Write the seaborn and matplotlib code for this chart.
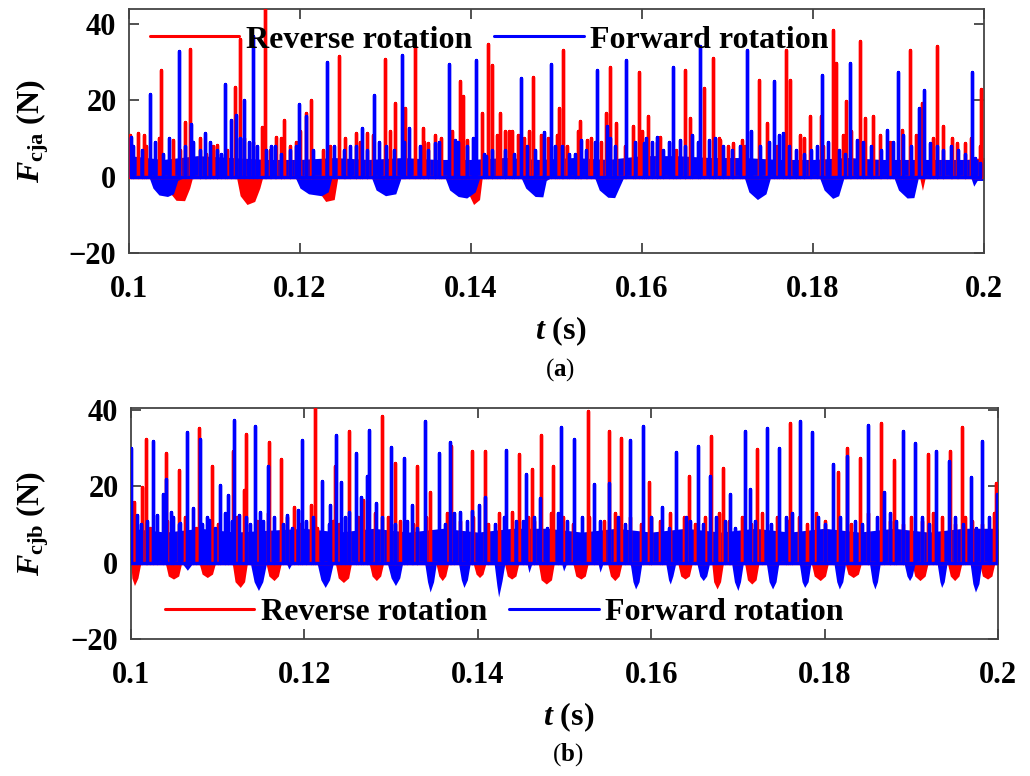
import numpy as np
import pandas as pd
import matplotlib
matplotlib.use("Agg")
import matplotlib.pyplot as plt
import seaborn as sns

# ---------------- data ----------------
x_ticks = [0.1, 0.12, 0.14, 0.16, 0.18, 0.2]
x_tick_labels = ["0.1", "0.12", "0.14", "0.16", "0.18", "0.2"]
y_ticks = [-20, 0, 20, 40]
series_names = ["Reverse rotation", "Forward rotation"]
panel_tags = ["a", "b"]
y_names = ["cja", "cjb"]

# Panel (a) reverse rotation: spikes (t [s], F [N])
a_rev_spikes = [
    (0.1001, 11), (0.1011, 11.4), (0.1017, 11), (0.1038, 27.8), (0.1052, 9.7), (0.1066, 14.2),
    (0.1071, 33.4), (0.1083, 10.1), (0.1103, 8.2), (0.1124, 23.6), (0.1130, 36), (0.1156, 13),
    (0.1159, 48), (0.1172, 10.5), (0.1181, 14.7), (0.1188, 7.9), (0.1207, 16.6), (0.1213, 20.1),
    (0.1227, 7), (0.1246, 31.5), (0.1266, 11.4), (0.1278, 11.4), (0.1299, 30.8), (0.1311, 19.4),
    (0.1323, 17.9), (0.1334, 34.1), (0.1344, 12.7), (0.1350, 8.8), (0.1387, 25.1), (0.1391, 21),
    (0.1395, 9.7), (0.1413, 16.6), (0.1420, 34.8), (0.1424, 29.3), (0.1434, 16.6), (0.1440, 12),
    (0.1448, 12), (0.1468, 12), (0.1473, 26.2), (0.1482, 11), (0.1503, 17.9), (0.1508, 33.2),
    (0.1528, 14.5), (0.1536, 9.7), (0.1558, 16.6), (0.1563, 28.8), (0.1570, 14), (0.1589, 13.2),
    (0.1597, 27.3), (0.1607, 15.8), (0.1621, 10.5), (0.1650, 28), (0.1656, 15.3), (0.1672, 23.2),
    (0.1683, 31), (0.1691, 9.7), (0.1707, 8.8), (0.1717, 9.7), (0.1737, 25.2), (0.1746, 14),
    (0.1769, 33.2), (0.1773, 25.4), (0.1797, 15.8), (0.1809, 15.8), (0.1823, 38.4), (0.1827, 29.7),
    (0.1839, 19.7), (0.1855, 35.6), (0.1861, 15.3), (0.1870, 15.8), (0.1904, 12.3), (0.1913, 33.2),
    (0.1927, 19.3), (0.1945, 34.2), (0.1952, 13.2), (0.1969, 8.8), (0.1978, 8.8), (0.1997, 22.9),
    (0.1020, 8), (0.1035, 10), (0.1060, 7), (0.1090, 6), (0.1098, 8), (0.1115, 7), (0.1135, 10),
    (0.1145, 9), (0.1165, 7), (0.1178, 10), (0.1195, 9), (0.1200, 12), (0.1235, 8), (0.1253, 10),
    (0.1270, 9), (0.1285, 11), (0.1305, 12), (0.1320, 10), (0.1345, 9), (0.1358, 11), (0.1365, 10),
    (0.1378, 12), (0.1430, 11), (0.1445, 12), (0.1455, 11), (0.1462, 10), (0.1490, 10), (0.1500, 11),
    (0.1512, 8), (0.1525, 12), (0.1540, 10), (0.1552, 9), (0.1580, 8), (0.1600, 12), (0.1618, 9),
    (0.1640, 7), (0.1690, 10), (0.1700, 8), (0.1720, 8), (0.1758, 8), (0.1785, 11), (0.1790, 10),
    (0.1812, 8), (0.1835, 11), (0.1845, 12), (0.1878, 11), (0.1890, 9), (0.1920, 11), (0.1940, 10),
    (0.1962, 10), (0.1985, 10), (0.1995, 8),
]
a_rev_band_hi = [
    (0.100, 4), (0.104, 4), (0.108, 3.5), (0.112, 4), (0.116, 3.5), (0.120, 4), (0.124, 3.5),
    (0.128, 4), (0.132, 3.5), (0.136, 4), (0.140, 3.5), (0.144, 5), (0.148, 4), (0.152, 4),
    (0.156, 4), (0.160, 4), (0.164, 4), (0.168, 4), (0.172, 4), (0.176, 4), (0.180, 4),
    (0.184, 5), (0.188, 4), (0.192, 4), (0.196, 4), (0.200, 5),
]
a_rev_band_lo = [
    (0.1000, -0.5), (0.1043, -0.5), (0.1047, -4), (0.1055, -6.2), (0.1065, -6.3), (0.1071, -3),
    (0.1074, -0.5), (0.1126, -0.5), (0.1130, -5), (0.1138, -7.3), (0.1147, -6.5), (0.1153, -3),
    (0.1156, -0.5), (0.1218, -0.5), (0.1222, -4), (0.1230, -6.5), (0.1240, -6), (0.1244, -0.5),
    (0.1392, -0.5), (0.1396, -4), (0.1403, -7.3), (0.1410, -6), (0.1413, -0.5), (0.1925, -0.5),
    (0.1928, -3.6), (0.1931, -0.5), (0.2000, -0.5),
]

# Panel (a) forward rotation
a_fwd_spikes = [
    (0.1002, 10.5), (0.1025, 21.7), (0.1058, 32.8), (0.1073, 13.9), (0.1089, 11.4), (0.1112, 24.3),
    (0.1119, 14.9), (0.1125, 16.2), (0.1134, 20), (0.1145, 36.7), (0.1171, 7.9), (0.1199, 19),
    (0.1207, 15.8), (0.1231, 30.1), (0.1258, 7.9), (0.1272, 12.7), (0.1286, 21.4), (0.1319, 31.9),
    (0.1328, 12.7), (0.1358, 8.8), (0.1374, 29.5), (0.1381, 9.7), (0.1406, 30.6), (0.1418, 5.3),
    (0.1459, 25.8), (0.1485, 11.8), (0.1493, 29.5), (0.1506, 7.9), (0.1529, 9.7), (0.1547, 28),
    (0.1559, 13.2), (0.1581, 30.6), (0.1602, 8.8), (0.1617, 10.5), (0.1636, 28.8), (0.1644, 9.7),
    (0.1668, 34.1), (0.1678, 9.7), (0.1723, 33.2), (0.1754, 25.1), (0.1765, 11.4), (0.1810, 26.7),
    (0.1843, 29.7), (0.1851, 9.7), (0.1886, 12.3), (0.1899, 27.3), (0.1924, 17.9), (0.1930, 22.7),
    (0.1937, 8.8), (0.1961, 7.9), (0.1986, 27.5), (0.1995, 3.6),
    (0.1005, 8), (0.1015, 7), (0.1030, 9), (0.1040, 6), (0.1047, 10), (0.1065, 8), (0.1075, 9),
    (0.1083, 7), (0.1095, 9), (0.1103, 7), (0.1108, 6), (0.1130, 10), (0.1140, 9), (0.1150, 8),
    (0.1160, 7), (0.1166, 8), (0.1178, 6), (0.1188, 7), (0.1195, 8), (0.1215, 7), (0.1240, 8),
    (0.1252, 7), (0.1265, 8), (0.1278, 7), (0.1292, 9), (0.1300, 8), (0.1310, 7), (0.1322, 9),
    (0.1340, 8), (0.1350, 7), (0.1362, 9), (0.1385, 9), (0.1395, 8), (0.1402, 10), (0.1415, 6),
    (0.1425, 7), (0.1440, 7), (0.1450, 6), (0.1465, 8), (0.1475, 7), (0.1498, 8), (0.1515, 6),
    (0.1522, 6), (0.1535, 7), (0.1545, 9), (0.1562, 10), (0.1568, 8), (0.1592, 9), (0.1605, 10),
    (0.1612, 9), (0.1625, 7), (0.1632, 9), (0.1650, 8), (0.1658, 11), (0.1665, 9), (0.1685, 10),
    (0.1695, 8), (0.1705, 7), (0.1715, 8), (0.1727, 12), (0.1738, 8), (0.1748, 9), (0.1760, 11),
    (0.1772, 8), (0.1780, 7), (0.1790, 6), (0.1798, 7), (0.1805, 8), (0.1818, 9), (0.1830, 7),
    (0.1838, 6), (0.1858, 9), (0.1868, 8), (0.1880, 7), (0.1893, 9), (0.1905, 11), (0.1915, 8),
    (0.1945, 8), (0.1952, 7), (0.1970, 7), (0.1978, 6), (0.1990, 5),
]
a_fwd_band_hi = [
    (0.100, 5.5), (0.104, 4.5), (0.108, 5.5), (0.112, 5), (0.116, 4.5), (0.120, 4.5), (0.124, 5),
    (0.128, 4.5), (0.132, 5), (0.136, 4.5), (0.140, 4.5), (0.144, 5), (0.148, 4.5), (0.152, 5),
    (0.156, 4.5), (0.160, 5.5), (0.164, 5.5), (0.168, 5), (0.172, 5), (0.176, 4.5), (0.180, 4.5),
    (0.184, 5), (0.188, 4.5), (0.192, 4.5), (0.196, 4.5), (0.200, 4.5),
]
a_fwd_band_lo = [
    (0.1000, -0.5), (0.1024, -0.5), (0.1028, -3), (0.1035, -4.8), (0.1045, -5.2), (0.1052, -4.5),
    (0.1057, -1), (0.1062, -0.5), (0.1195, -0.5), (0.1200, -3), (0.1210, -4.5), (0.1225, -5),
    (0.1233, -4), (0.1237, -0.5), (0.1284, -0.5), (0.1289, -3.5), (0.1300, -5), (0.1312, -4.5),
    (0.1318, -0.5), (0.1370, -0.5), (0.1375, -3.5), (0.1385, -5.2), (0.1395, -5.6), (0.1405, -4),
    (0.1410, -0.5), (0.1459, -0.5), (0.1464, -3), (0.1475, -5.2), (0.1484, -5.3), (0.1488, -1),
    (0.1492, -0.5), (0.1545, -0.5), (0.1550, -3.5), (0.1560, -5.4), (0.1568, -5.5), (0.1575, -2),
    (0.1578, -0.5), (0.1720, -0.5), (0.1725, -4), (0.1735, -6), (0.1745, -4.5), (0.1750, -0.5),
    (0.1808, -0.5), (0.1813, -3.5), (0.1823, -5.7), (0.1830, -5), (0.1836, -0.5), (0.1895, -0.5),
    (0.1900, -3.5), (0.1910, -5.6), (0.1918, -5.5), (0.1923, -0.5), (0.1985, -0.5), (0.1988, -2.5),
    (0.1992, -1), (0.2000, -1),
]

# Panel (b) reverse rotation
b_rev_spikes = [
    (0.1003, 15.9), (0.1013, 19.8), (0.1017, 32.3), (0.1040, 28.6), (0.1055, 24.3), (0.1078, 35.3),
    (0.1094, 25.4), (0.1118, 29.2), (0.1130, 18.9), (0.1133, 33.8), (0.1159, 31.6), (0.1173, 27.1),
    (0.1188, 14.6), (0.1208, 15.2), (0.1212, 40.4), (0.1235, 25.2), (0.1251, 34.4), (0.1268, 16.3),
    (0.1290, 38.3), (0.1305, 26.2), (0.1330, 25.2), (0.1345, 18.5), (0.1369, 30.5), (0.1393, 29.2),
    (0.1408, 29.2), (0.1439, 13.3), (0.1447, 28.4), (0.1462, 24.5), (0.1473, 33.5), (0.1487, 25.2),
    (0.1527, 39.6), (0.1551, 34.4), (0.1565, 32.7), (0.1598, 21.2), (0.1644, 22.8), (0.1669, 33.1),
    (0.1683, 24.7), (0.1722, 29.7), (0.1760, 36.6), (0.1816, 23.7), (0.1826, 30.1), (0.1841, 27.5),
    (0.1865, 36.6), (0.1880, 26.9), (0.1919, 28.4), (0.1945, 29.2), (0.1959, 35.5), (0.1998, 20.8),
    (0.1005, 10), (0.1022, 9), (0.1042, 11), (0.1062, 12), (0.1075, 9), (0.1100, 10), (0.1122, 12),
    (0.1145, 11), (0.1158, 13), (0.1180, 12), (0.1195, 10), (0.1215, 9), (0.1233, 11), (0.1240, 10),
    (0.1262, 12), (0.1282, 13), (0.1296, 12), (0.1310, 11), (0.1325, 10), (0.1340, 12), (0.1365, 13),
    (0.1380, 11), (0.1395, 12), (0.1412, 10), (0.1425, 13), (0.1440, 11), (0.1458, 12), (0.1465, 11),
    (0.1485, 13), (0.1498, 12), (0.1510, 10), (0.1528, 12), (0.1545, 11), (0.1558, 13), (0.1575, 12),
    (0.1588, 10), (0.1600, 12), (0.1610, 11), (0.1622, 13), (0.1638, 12), (0.1650, 10), (0.1662, 12),
    (0.1678, 13), (0.1690, 11), (0.1705, 12), (0.1715, 10), (0.1728, 13), (0.1745, 12), (0.1758, 11),
    (0.1770, 12), (0.1780, 10), (0.1790, 13), (0.1800, 11), (0.1815, 12), (0.1830, 10), (0.1850, 13),
    (0.1866, 12), (0.1875, 11), (0.1890, 10), (0.1900, 12), (0.1912, 11), (0.1925, 13), (0.1935, 12),
    (0.1950, 10), (0.1962, 12), (0.1970, 11), (0.1982, 10), (0.1995, 13),
]
b_rev_band_hi = [
    (0.100, 7), (0.104, 6), (0.108, 7), (0.112, 6.5), (0.116, 6), (0.120, 7), (0.124, 6.5),
    (0.128, 6), (0.132, 7), (0.136, 6.5), (0.140, 6), (0.144, 7), (0.148, 6.5), (0.152, 6),
    (0.156, 7), (0.160, 6.5), (0.164, 6), (0.168, 7), (0.172, 6.5), (0.176, 6), (0.180, 7),
    (0.184, 6.5), (0.188, 6), (0.192, 7), (0.196, 6.5), (0.200, 6),
]
b_rev_band_lo = [
    (0.1000, -0.5), (0.1001, -4), (0.1004, -6), (0.1008, -4), (0.1011, -0.5), (0.1040, -0.5),
    (0.1043, -3.5), (0.1049, -4.3), (0.1055, -3.5), (0.1058, -0.5), (0.1079, -0.5), (0.1082, -3),
    (0.1088, -3.9), (0.1094, -3), (0.1097, -0.5), (0.1117, -0.5), (0.1120, -5), (0.1126, -6.5),
    (0.1131, -5), (0.1134, -0.5), (0.1156, -0.5), (0.1159, -3.5), (0.1165, -4.7), (0.1170, -3.5),
    (0.1173, -0.5), (0.1236, -0.5), (0.1239, -4), (0.1245, -5.2), (0.1251, -4), (0.1254, -0.5),
    (0.1275, -0.5), (0.1278, -3.5), (0.1283, -4.7), (0.1288, -3.5), (0.1291, -0.5), (0.1352, -0.5),
    (0.1355, -3.5), (0.1359, -4.7), (0.1363, -3.5), (0.1366, -0.5), (0.1395, -0.5), (0.1398, -3),
    (0.1402, -3.9), (0.1406, -3), (0.1409, -0.5), (0.1431, -0.5), (0.1434, -3.5), (0.1439, -4.3),
    (0.1444, -3.5), (0.1447, -0.5), (0.1470, -0.5), (0.1473, -4.5), (0.1479, -5.6), (0.1485, -4.5),
    (0.1488, -0.5), (0.1510, -0.5), (0.1513, -3.5), (0.1519, -4.3), (0.1524, -3.5), (0.1527, -0.5),
    (0.1550, -0.5), (0.1553, -3.5), (0.1558, -4.7), (0.1563, -3.5), (0.1566, -0.5), (0.1631, -0.5),
    (0.1634, -3.5), (0.1639, -4.3), (0.1644, -3.5), (0.1647, -0.5), (0.1670, -0.5), (0.1672, -5),
    (0.1676, -6.9), (0.1680, -5), (0.1683, -0.5), (0.1708, -0.5), (0.1711, -4.5), (0.1716, -5.6),
    (0.1721, -4.5), (0.1724, -0.5), (0.1785, -0.5), (0.1788, -3.5), (0.1795, -4.7), (0.1801, -3.5),
    (0.1804, -0.5), (0.1824, -0.5), (0.1827, -3), (0.1833, -3.9), (0.1839, -3), (0.1842, -0.5),
    (0.1901, -0.5), (0.1904, -3.5), (0.1910, -4.7), (0.1916, -3.5), (0.1919, -0.5), (0.1942, -0.5),
    (0.1945, -3.5), (0.1950, -4.7), (0.1955, -3.5), (0.1958, -0.5), (0.1979, -0.5), (0.1982, -3.5),
    (0.1988, -4.3), (0.1993, -3.5), (0.1996, -0.5), (0.2000, -0.5),
]

# Panel (b) forward rotation
b_fwd_spikes = [
    (0.1000, 30.1), (0.1007, 12.5), (0.1025, 31.8), (0.1030, 12.5), (0.1037, 18), (0.1040, 21.9),
    (0.1046, 13.3), (0.1057, 10.3), (0.1065, 34.2), (0.1071, 14.2), (0.1080, 32.3), (0.1090, 11.2),
    (0.1103, 20.4), (0.1112, 17.6), (0.1119, 37.4), (0.1125, 12.5), (0.1143, 35.9), (0.1149, 13.3),
    (0.1158, 25.2), (0.1180, 12.5), (0.1193, 13.8), (0.1197, 32), (0.1220, 21.5), (0.1230, 15),
    (0.1236, 33.5), (0.1242, 21.2), (0.1251, 13.3), (0.1260, 28.6), (0.1265, 17.2), (0.1272, 22.6),
    (0.1275, 34.7), (0.1283, 15.5), (0.1300, 30.4), (0.1315, 27.5), (0.1324, 15), (0.1339, 37.2),
    (0.1355, 28.6), (0.1368, 31.6), (0.1380, 13.3), (0.1393, 13.5), (0.1401, 15), (0.1408, 17.2),
    (0.1433, 29.4), (0.1444, 10.8), (0.1456, 23.2), (0.1472, 16.8), (0.1496, 35.5), (0.1511, 32.4),
    (0.1534, 20.6), (0.1551, 20.9), (0.1575, 32.1), (0.1590, 35.9), (0.1613, 14.6), (0.1629, 29),
    (0.1654, 30.5), (0.1668, 22.8), (0.1691, 18), (0.1708, 34.4), (0.1714, 19.4), (0.1733, 35.3),
    (0.1747, 30.1), (0.1772, 37), (0.1786, 34.1), (0.1810, 25.8), (0.1826, 27.8), (0.1850, 36.1),
    (0.1868, 18.5), (0.1890, 34.6), (0.1904, 31.3), (0.1928, 29.2), (0.1943, 26.6), (0.1969, 22.4),
    (0.1982, 31.9), (0.1999, 18),
    (0.1012, 10), (0.1018, 11), (0.1048, 12), (0.1055, 10), (0.1082, 10), (0.1088, 12), (0.1097, 9),
    (0.1108, 13), (0.1117, 11), (0.1133, 12), (0.1137, 10), (0.1152, 11), (0.1165, 12), (0.1175, 10),
    (0.1186, 9), (0.1202, 11), (0.1210, 12), (0.1228, 10), (0.1247, 12), (0.1290, 12), (0.1305, 10),
    (0.1318, 11), (0.1330, 9), (0.1362, 10), (0.1372, 13), (0.1388, 11), (0.1420, 10), (0.1430, 12),
    (0.1452, 11), (0.1465, 12), (0.1480, 9), (0.1492, 13), (0.1503, 11), (0.1520, 12), (0.1541, 11),
    (0.1562, 12), (0.1570, 10), (0.1600, 12), (0.1620, 9), (0.1640, 12), (0.1645, 11), (0.1660, 10),
    (0.1675, 12), (0.1685, 11), (0.1697, 9), (0.1720, 11), (0.1738, 10), (0.1755, 12), (0.1762, 13),
    (0.1792, 12), (0.1800, 10), (0.1818, 12), (0.1835, 11), (0.1843, 10), (0.1860, 12), (0.1875, 13),
    (0.1882, 11), (0.1912, 12), (0.1920, 10), (0.1950, 12), (0.1960, 10), (0.1975, 9), (0.1990, 12),
]
b_fwd_band_hi = [
    (0.100, 9), (0.104, 8), (0.108, 9), (0.112, 8), (0.116, 8.5), (0.120, 9), (0.124, 8),
    (0.128, 9), (0.132, 8), (0.136, 9), (0.140, 8), (0.144, 9), (0.148, 9), (0.152, 8),
    (0.156, 9), (0.160, 8), (0.164, 9), (0.168, 8), (0.172, 9), (0.176, 8), (0.180, 9),
    (0.184, 8), (0.188, 9), (0.192, 8), (0.196, 9), (0.200, 9),
]
b_fwd_band_lo = [
    (0.1000, -0.5), (0.1060, -0.5), (0.1065, -2), (0.1070, -0.5), (0.1138, -0.5), (0.1142, -5),
    (0.1147, -7.3), (0.1152, -5), (0.1156, -0.5), (0.1180, -0.5), (0.1182, -1.7), (0.1185, -0.5),
    (0.1215, -0.5), (0.1219, -4.5), (0.1224, -6.5), (0.1229, -4.5), (0.1233, -0.5), (0.1296, -0.5),
    (0.1300, -4), (0.1305, -6), (0.1310, -4), (0.1313, -0.5), (0.1339, -0.5), (0.1342, -5),
    (0.1345, -7.7), (0.1349, -5), (0.1352, -0.5), (0.1378, -0.5), (0.1381, -4.5), (0.1384, -6.5),
    (0.1388, -4.5), (0.1391, -0.5), (0.1419, -0.5), (0.1422, -6), (0.1424, -9), (0.1428, -4.7),
    (0.1431, -0.5), (0.1457, -0.5), (0.1459, -2.6), (0.1462, -0.5), (0.1497, -0.5), (0.1499, -2.2),
    (0.1502, -0.5), (0.1539, -0.5), (0.1541, -2.5), (0.1544, -0.5), (0.1576, -0.5), (0.1579, -5),
    (0.1582, -6.9), (0.1586, -5), (0.1589, -0.5), (0.1617, -0.5), (0.1620, -4.5), (0.1622, -5.6),
    (0.1625, -3.5), (0.1628, -0.5), (0.1653, -0.5), (0.1656, -3.5), (0.1660, -4.7), (0.1664, -3.5),
    (0.1667, -0.5), (0.1693, -0.5), (0.1696, -5), (0.1700, -7.3), (0.1703, -5), (0.1706, -0.5),
    (0.1733, -0.5), (0.1736, -5), (0.1740, -6.9), (0.1744, -5), (0.1747, -0.5), (0.1771, -0.5),
    (0.1774, -5), (0.1777, -6.5), (0.1781, -5), (0.1784, -0.5), (0.1811, -0.5), (0.1814, -5),
    (0.1817, -6.9), (0.1821, -5), (0.1824, -0.5), (0.1852, -0.5), (0.1855, -5), (0.1858, -6.9),
    (0.1861, -5), (0.1864, -0.5), (0.1892, -0.5), (0.1895, -3.5), (0.1898, -4.7), (0.1901, -3.5),
    (0.1904, -0.5), (0.1930, -0.5), (0.1933, -5), (0.1935, -6.5), (0.1938, -5), (0.1941, -0.5),
    (0.1968, -0.5), (0.1971, -5.5), (0.1974, -7.7), (0.1978, -5.5), (0.1981, -0.5), (0.2000, -0.5),
]

# ---------------- style ----------------
sns.set_theme(style="ticks")
plt.rcParams.update({
    "font.family": ["Liberation Serif", "DejaVu Serif"],
    "font.weight": "bold",
    "text.color": "black",
    "axes.labelcolor": "black",
    "mathtext.fontset": "custom",
    "mathtext.rm": "Liberation Serif:bold",
    "mathtext.it": "Liberation Serif:italic:bold",
    "mathtext.bf": "Liberation Serif:bold",
    "axes.unicode_minus": True,
})

RED = "#ff0000"
BLUE = "#0000ff"
W, H = 1030, 776
fig = plt.figure(figsize=(W / 100, H / 100), dpi=100)


def px_axes(left, top, right, bottom):
    return fig.add_axes([left / W, 1 - bottom / H, (right - left) / W, (bottom - top) / H])


ax_a = px_axes(129, 9, 984, 253)
ax_b = px_axes(131, 408, 998, 639)


def draw_series(ax, spikes, band_hi, band_lo, color, label):
    spikes = sorted(spikes)
    ht, hv = zip(*band_hi)
    lt, lv = zip(*band_lo)
    ax.fill_between(ht, 0, hv, color=color, lw=0, zorder=2)
    ax.fill_between(lt, lv, 0, color=color, lw=0, zorder=2)
    st = np.array([s[0] for s in spikes])
    sv = np.array([s[1] for s in spikes])
    t_trace = np.repeat(st, 3)
    f_trace = np.column_stack([np.zeros_like(sv), sv, np.zeros_like(sv)]).ravel()
    df = pd.DataFrame({"t": t_trace, "F": f_trace})
    sns.lineplot(data=df, x="t", y="F", sort=False, estimator=None, color=color,
                 lw=2.4, label=label, ax=ax, zorder=3)


panels = [
    (ax_a, a_rev_spikes, a_rev_band_hi, a_rev_band_lo, a_fwd_spikes, a_fwd_band_hi, a_fwd_band_lo, 43.9),
    (ax_b, b_rev_spikes, b_rev_band_hi, b_rev_band_lo, b_fwd_spikes, b_fwd_band_hi, b_fwd_band_lo, 40.5),
]

for i, (ax, rs, rh, rl, fs, fh, fl, ytop) in enumerate(panels):
    draw_series(ax, rs, rh, rl, RED, series_names[0])
    draw_series(ax, fs, fh, fl, BLUE, series_names[1])
    ax.set_xlim(0.1, 0.2)
    ax.set_ylim(-20, ytop)
    ax.set_xticks(x_ticks)
    ax.set_xticklabels(x_tick_labels)
    ax.set_yticks(y_ticks)
    ax.tick_params(axis="both", direction="in", length=7, width=1.2, color="#333333",
                   top=True, right=True, labelsize=22, labelcolor="black")
    ax.tick_params(axis="x", pad=16)
    ax.tick_params(axis="y", pad=9)
    for lab in ax.get_xticklabels() + ax.get_yticklabels():
        lab.set_fontweight("bold")
    for sp in ax.spines.values():
        sp.set_color("#444444")
        sp.set_linewidth(1.3)
    ax.set_ylabel(r"$\mathit{F}_{\mathrm{" + y_names[i] + r"}}$ (N)", fontsize=23,
                  fontweight="bold", va="center")
    ax.set_xlabel(r"$\mathit{t}$ (s)", fontsize=23, fontweight="bold", va="center")

# legends
leg_kw = dict(ncol=2, frameon=False, fontsize=23, handlelength=2.8, handletextpad=0.2,
              columnspacing=0.7, borderaxespad=0, borderpad=0)
leg_a = ax_a.legend(loc="center left", bbox_to_anchor=((150 - 129) / 855, 1 - (40 - 9) / 244), **leg_kw)
leg_b = ax_b.legend(loc="center left", bbox_to_anchor=((165 - 131) / 867, 1 - (612 - 408) / 231), **leg_kw)
for leg in (leg_a, leg_b):
    leg.set_zorder(5)
    for h in leg.legend_handles:
        h.set_linewidth(2.2)
    for t in leg.get_texts():
        t.set_fontweight("bold")
        t.set_color("black")

# label positions
ax_a.yaxis.set_label_coords((33 - 129) / 855, 0.5)
ax_b.yaxis.set_label_coords((33 - 131) / 867, 0.5)
ax_a.xaxis.set_label_coords(0.5 + (560 - 556) / 855, (253 - 331) / 244)
ax_b.xaxis.set_label_coords(0.5 + (568 - 564) / 867, (639 - 717) / 231)

fig.text(560 / W, 1 - 370 / H, r"($\mathbf{" + panel_tags[0] + r"}$)", ha="center", va="center",
         fontsize=18, fontweight="normal")
fig.text(568 / W, 1 - 755 / H, r"($\mathbf{" + panel_tags[1] + r"}$)", ha="center", va="center",
         fontsize=18, fontweight="normal")

fig.savefig("out.png", dpi=100)
